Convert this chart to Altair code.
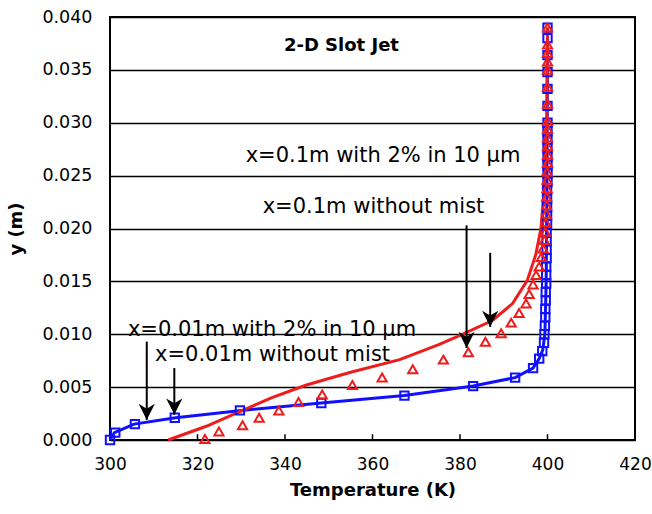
import altair as alt
import pandas as pd

# ---------------- data ----------------
# x = 0.01 m without mist (blue line)
blue_line_T = [300.0, 301.0, 305.5, 315.0, 330.0, 348.3, 367.3, 383.0, 392.6, 396.7, 398.1, 398.9, 399.4, 399.7, 399.9, 400.0]
blue_line_y = [0.0, 0.0007, 0.0015, 0.0021, 0.0028, 0.0035, 0.0042, 0.0051, 0.0059, 0.0068, 0.0077, 0.0085, 0.0100, 0.0150, 0.0250, 0.0390]

# x = 0.01 m with 2% in 10 um (blue squares)
blue_sq_T = [300.0, 301.2, 305.7, 314.8, 329.7, 348.3, 367.3, 383.0, 392.6, 396.7, 398.1, 398.8,
             399.2, 399.3, 399.4, 399.5, 399.5, 399.6, 399.6, 399.7, 399.7, 399.7, 399.8, 399.8,
             399.8, 399.8, 399.9, 399.9, 399.9, 399.9, 399.9, 400.0, 400.0, 400.0, 400.0, 400.0,
             400.0, 400.0, 400.0, 400.0, 400.0, 400.0, 400.0, 400.0, 400.0]
blue_sq_y = [0.0, 0.0007, 0.0015, 0.0021, 0.0028, 0.0035, 0.0042, 0.0051, 0.0059, 0.0068, 0.0077, 0.0084,
             0.0092, 0.0100, 0.0108, 0.0116, 0.0124, 0.0132, 0.0140, 0.0148, 0.0156, 0.0164, 0.0172, 0.0180,
             0.0188, 0.0196, 0.0204, 0.0212, 0.0220, 0.0228, 0.0236, 0.0244, 0.0252, 0.0260, 0.0268, 0.0276,
             0.0284, 0.0292, 0.0300, 0.0316, 0.0332, 0.0348, 0.0364, 0.0380, 0.0390]

# x = 0.1 m without mist (red line)
red_line_T = [313.3, 322.0, 330.3, 337.0, 344.9, 355.0, 366.2, 375.0, 380.0, 387.4, 392.0, 395.4, 397.3, 398.5, 399.3, 399.8, 400.0]
red_line_y = [0.0, 0.0013, 0.0028, 0.0040, 0.0052, 0.0064, 0.0076, 0.0090, 0.0099, 0.0113, 0.0129, 0.0151, 0.0175, 0.0200, 0.0240, 0.0300, 0.0390]

# x = 0.1 m with 2% in 10 um (red triangles)
red_tri_T = [321.7, 324.9, 330.3, 334.1, 338.6, 343.1, 348.5, 355.4, 362.2, 369.2, 376.2, 381.9,
             385.8, 389.4, 391.7, 393.5, 395.1, 395.8, 396.7, 397.4, 398.1, 398.6, 399.0, 399.3,
             399.5, 399.6, 399.7, 399.8, 399.8, 399.9, 399.9, 399.9, 400.0, 400.0, 400.0, 400.0,
             400.0, 400.0, 400.0, 400.0, 400.0, 400.0, 400.0, 400.0, 400.0]
red_tri_y = [0.0001, 0.0008, 0.0014, 0.0021, 0.0028, 0.0036, 0.0043, 0.0052, 0.0059, 0.0067, 0.0076, 0.0083,
             0.0093, 0.0101, 0.0111, 0.0120, 0.0129, 0.0138, 0.0147, 0.0156, 0.0164, 0.0173, 0.0181, 0.0189,
             0.0197, 0.0206, 0.0214, 0.0222, 0.0230, 0.0238, 0.0246, 0.0254, 0.0262, 0.0270, 0.0278, 0.0286,
             0.0294, 0.0302, 0.0318, 0.0334, 0.0350, 0.0358, 0.0366, 0.0374, 0.0390]

# annotations
ann_text = ["x=0.1m with 2% in 10 \u03bcm", "x=0.1m without mist",
            "x=0.01m with 2% in 10 \u03bcm", "x=0.01m without mist"]
ann_T = [331.0, 334.9, 304.1, 310.3]
ann_y = [0.0269, 0.0220, 0.0104, 0.0080]

title_text = ["2-D Slot Jet"]
title_T = [352.9]
title_y = [0.0373]

# arrows: x position, start y, tip y
arrow_T = [308.4, 314.7, 381.5, 386.9]
arrow_y_start = [0.0093, 0.0068, 0.0203, 0.0177]
arrow_y_tip = [0.0019, 0.0024, 0.0087, 0.0107]

x_ticks = [300, 320, 340, 360, 380, 400, 420]
y_ticks = [0.0, 0.005, 0.010, 0.015, 0.020, 0.025, 0.030, 0.035, 0.040]
inner_tick_T = [320, 340, 360, 380, 400]
inner_tick_len = [0.00055] * len(inner_tick_T)

FONT = "DejaVu Sans"
BLUE = "#1010ff"
RED = "#ee1c1c"

xs = alt.Scale(domain=[300, 420], nice=False, zero=False)
ys = alt.Scale(domain=[0, 0.04], nice=False)

X = alt.X("T:Q", scale=xs,
          axis=alt.Axis(values=x_ticks, title="Temperature (K)", grid=False, domain=False,
                        tickSize=0, labelPadding=16, labelFontSize=17, labelFont=FONT,
                        labelColor="black", titleFont=FONT, titleFontSize=18,
                        titleFontWeight="bold", titleColor="black", titlePadding=9,
                        labelFlush=False))
Y = alt.Y("y:Q", scale=ys,
          axis=alt.Axis(values=y_ticks, format=".3f", title="y (m)", grid=True,
                        gridColor="black", gridWidth=1.5, gridOpacity=1, domain=False,
                        tickSize=0, labelPadding=18, labelFontSize=17.5, labelFont=FONT,
                        labelColor="black", titleFont=FONT, titleFontSize=18,
                        titleFontWeight="bold", titleColor="black", titlePadding=16,
                        labelFlush=False))

bl = pd.DataFrame({"T": blue_line_T, "y": blue_line_y, "o": range(len(blue_line_T))})
bs = pd.DataFrame({"T": blue_sq_T, "y": blue_sq_y})
rl = pd.DataFrame({"T": red_line_T, "y": red_line_y, "o": range(len(red_line_T))})
rt = pd.DataFrame({"T": red_tri_T, "y": red_tri_y})
ann = pd.DataFrame({"T": ann_T, "y": ann_y, "t": ann_text})
ttl = pd.DataFrame({"T": title_T, "y": title_y, "t": title_text})
arr = pd.DataFrame({"T": arrow_T, "y": arrow_y_start, "y2": arrow_y_tip})
tip = pd.DataFrame({"T": arrow_T, "y": arrow_y_tip})
itk = pd.DataFrame({"T": inner_tick_T, "y": [0.0] * len(inner_tick_T), "y2": inner_tick_len})

blue_line = alt.Chart(bl).mark_line(color=BLUE, strokeWidth=3, clip=False).encode(
    x=X, y=Y, order="o:Q")
red_line = alt.Chart(rl).mark_line(color=RED, strokeWidth=3).encode(
    x="T:Q", y="y:Q", order="o:Q")
blue_sq = alt.Chart(bs).mark_point(shape="square", size=70, filled=False, color=BLUE,
                                   strokeWidth=2, opacity=1).encode(x="T:Q", y="y:Q")
red_tri = alt.Chart(rt).mark_point(shape="triangle-up", size=85, filled=False, color=RED,
                                   strokeWidth=2, opacity=1).encode(x="T:Q", y="y:Q")
arrows = alt.Chart(arr).mark_rule(color="black", strokeWidth=2).encode(
    x="T:Q", y="y:Q", y2="y2:Q")
heads = alt.Chart(tip).mark_point(
    shape="M0,0 L-0.9,-1.8 L0,-1.25 L0.9,-1.8 Z", size=324, filled=True,
    color="black", opacity=1, strokeWidth=0).encode(x="T:Q", y="y:Q")
texts = alt.Chart(ann).mark_text(align="left", baseline="middle", font=FONT,
                                 fontSize=21, color="black").encode(
    x="T:Q", y="y:Q", text="t:N")
title = alt.Chart(ttl).mark_text(align="center", baseline="middle", font=FONT,
                                 fontSize=18, fontWeight="bold", color="black").encode(
    x="T:Q", y="y:Q", text="t:N")
inner_ticks = alt.Chart(itk).mark_rule(color="black", strokeWidth=1.5).encode(
    x="T:Q", y="y:Q", y2="y2:Q")

chart = alt.layer(
    blue_line, red_line, blue_sq, red_tri, inner_ticks, arrows, heads, texts, title
).properties(
    width=525, height=423,
    autosize=alt.AutoSizeParams(type="none"),
    padding={"left": 110, "top": 17, "right": 17, "bottom": 74},
    background="white",
).configure_view(stroke="black", strokeWidth=2)

chart.save("out.html", embed_options={"renderer": "svg", "actions": False})
